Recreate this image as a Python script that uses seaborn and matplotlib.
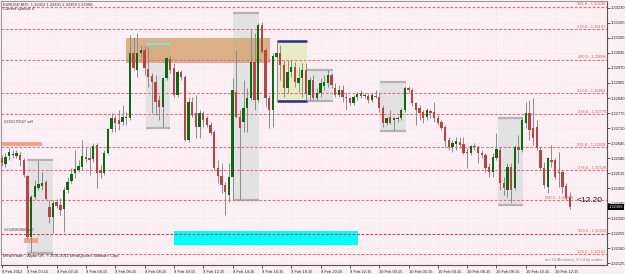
import matplotlib
matplotlib.use("Agg")
import matplotlib.pyplot as plt
import seaborn as sns
import pandas as pd
from matplotlib.patches import Rectangle

# ---------------- data ----------------
opens = [1.32580, 1.32554, 1.32589, 1.32593, 1.32589, 1.32593, 1.32571, 1.32502, 1.32238, 1.32411,
         1.32450, 1.32459, 1.32476, 1.32368, 1.32324, 1.32389, 1.32376, 1.32359, 1.32441, 1.32480,
         1.32515, 1.32528, 1.32541, 1.32584, 1.32580, 1.32576, 1.32636, 1.32528, 1.32515, 1.32602,
         1.32706, 1.32753, 1.32745, 1.32736, 1.32753, 1.32753, 1.33035, 1.32961, 1.33035, 1.33048,
         1.32966, 1.32935, 1.32909, 1.32831, 1.32801, 1.32927, 1.33009, 1.32970, 1.32853, 1.32953,
         1.32931, 1.32658, 1.32823, 1.32775, 1.32714, 1.32775, 1.32753, 1.32723, 1.32693, 1.32537,
         1.32502, 1.32463, 1.32420, 1.32498, 1.32866, 1.32758, 1.32736, 1.32797, 1.32840, 1.32996,
         1.32831, 1.33156, 1.33048, 1.32840, 1.32788, 1.33018, 1.33035, 1.32983, 1.32883, 1.32953,
         1.32974, 1.32905, 1.32927, 1.32961, 1.32853, 1.32918, 1.32840, 1.32862, 1.32892, 1.32905,
         1.32940, 1.32883, 1.32853, 1.32875, 1.32844, 1.32840, 1.32818, 1.32844, 1.32862, 1.32849,
         1.32849, 1.32831, 1.32849, 1.32844, 1.32797, 1.32732, 1.32758, 1.32745, 1.32749, 1.32753,
         1.32788, 1.32883, 1.32875, 1.32818, 1.32797, 1.32779, 1.32758, 1.32784, 1.32779, 1.32753,
         1.32736, 1.32714, 1.32658, 1.32628, 1.32641, 1.32649, 1.32641, 1.32602, 1.32602, 1.32632,
         1.32628, 1.32602, 1.32593, 1.32541, 1.32519, 1.32580, 1.32615, 1.32472, 1.32441, 1.32541,
         1.32450, 1.32628, 1.32615, 1.32732, 1.32775, 1.32710, 1.32714, 1.32615, 1.32537, 1.32454,
         1.32571, 1.32571, 1.32519, 1.32519, 1.32459, 1.32412]
highs = [1.32593, 1.32602, 1.32623, 1.32615, 1.32615, 1.32606, 1.32580, 1.32506, 1.32420, 1.32485,
         1.32571, 1.32519, 1.32485, 1.32398, 1.32398, 1.32402, 1.32407, 1.32454, 1.32498, 1.32537,
         1.32615, 1.32571, 1.32658, 1.32628, 1.32628, 1.32645, 1.32645, 1.32550, 1.32615, 1.32710,
         1.32775, 1.32766, 1.32788, 1.32810, 1.32779, 1.33113, 1.33104, 1.33122, 1.33070, 1.33065,
         1.33061, 1.32948, 1.32940, 1.32853, 1.32931, 1.33018, 1.33026, 1.32992, 1.32961, 1.32961,
         1.32940, 1.32844, 1.32844, 1.32853, 1.32788, 1.32784, 1.32762, 1.32736, 1.32701, 1.32571,
         1.32558, 1.32476, 1.32558, 1.32927, 1.33048, 1.32788, 1.32918, 1.32883, 1.33135, 1.33122,
         1.33165, 1.33169, 1.33061, 1.32853, 1.33035, 1.33083, 1.33070, 1.33005, 1.33005, 1.33005,
         1.32996, 1.32974, 1.32992, 1.32992, 1.32931, 1.32940, 1.32883, 1.32927, 1.32940, 1.32961,
         1.32948, 1.32905, 1.32896, 1.32896, 1.32862, 1.32844, 1.32853, 1.32866, 1.32875, 1.32862,
         1.32857, 1.32862, 1.32875, 1.32866, 1.32810, 1.32758, 1.32788, 1.32758, 1.32762, 1.32797,
         1.32892, 1.32892, 1.32883, 1.32823, 1.32810, 1.32788, 1.32797, 1.32792, 1.32823, 1.32766,
         1.32745, 1.32723, 1.32671, 1.32658, 1.32671, 1.32671, 1.32671, 1.32623, 1.32636, 1.32645,
         1.32636, 1.32615, 1.32602, 1.32558, 1.32602, 1.32688, 1.32628, 1.32498, 1.32558, 1.32558,
         1.32636, 1.32680, 1.32758, 1.32823, 1.32831, 1.32840, 1.32745, 1.32628, 1.32563, 1.32584,
         1.32636, 1.32580, 1.32606, 1.32528, 1.32472, 1.32431]
lows = [1.32545, 1.32541, 1.32571, 1.32580, 1.32580, 1.32545, 1.32498, 1.32225, 1.32173, 1.32402,
        1.32441, 1.32441, 1.32398, 1.32298, 1.32255, 1.32363, 1.32333, 1.32259, 1.32428, 1.32472,
        1.32493, 1.32519, 1.32528, 1.32563, 1.32506, 1.32563, 1.32450, 1.32493, 1.32506, 1.32597,
        1.32693, 1.32693, 1.32701, 1.32723, 1.32723, 1.32745, 1.32961, 1.32931, 1.33013, 1.32940,
        1.32888, 1.32775, 1.32766, 1.32745, 1.32714, 1.32918, 1.32948, 1.32844, 1.32844, 1.32918,
        1.32654, 1.32649, 1.32758, 1.32667, 1.32667, 1.32714, 1.32714, 1.32680, 1.32528, 1.32472,
        1.32428, 1.32333, 1.32389, 1.32398, 1.32753, 1.32398, 1.32693, 1.32693, 1.32831, 1.32788,
        1.32823, 1.33035, 1.32801, 1.32710, 1.32714, 1.32831, 1.32918, 1.32844, 1.32862, 1.32931,
        1.32888, 1.32866, 1.32844, 1.32831, 1.32831, 1.32831, 1.32831, 1.32844, 1.32875, 1.32888,
        1.32883, 1.32844, 1.32844, 1.32823, 1.32788, 1.32810, 1.32810, 1.32831, 1.32840, 1.32840,
        1.32818, 1.32823, 1.32840, 1.32779, 1.32714, 1.32723, 1.32727, 1.32701, 1.32736, 1.32745,
        1.32779, 1.32862, 1.32805, 1.32723, 1.32745, 1.32732, 1.32745, 1.32753, 1.32736, 1.32723,
        1.32701, 1.32628, 1.32615, 1.32606, 1.32615, 1.32623, 1.32597, 1.32537, 1.32593, 1.32615,
        1.32558, 1.32580, 1.32519, 1.32498, 1.32498, 1.32571, 1.32441, 1.32420, 1.32411, 1.32385,
        1.32441, 1.32558, 1.32606, 1.32710, 1.32658, 1.32636, 1.32615, 1.32528, 1.32450, 1.32428,
        1.32541, 1.32489, 1.32454, 1.32428, 1.32398, 1.32358]
closes = [1.32558, 1.32584, 1.32606, 1.32597, 1.32602, 1.32571, 1.32506, 1.32238, 1.32411, 1.32459,
          1.32467, 1.32472, 1.32402, 1.32324, 1.32385, 1.32372, 1.32355, 1.32441, 1.32476, 1.32511,
          1.32532, 1.32545, 1.32589, 1.32576, 1.32571, 1.32632, 1.32515, 1.32515, 1.32602, 1.32706,
          1.32753, 1.32732, 1.32727, 1.32758, 1.32758, 1.33035, 1.32970, 1.33035, 1.33048, 1.32970,
          1.32931, 1.32909, 1.32823, 1.32801, 1.32927, 1.33013, 1.32961, 1.32853, 1.32953, 1.32931,
          1.32658, 1.32823, 1.32766, 1.32714, 1.32775, 1.32745, 1.32723, 1.32688, 1.32537, 1.32502,
          1.32463, 1.32433, 1.32498, 1.32875, 1.32758, 1.32710, 1.32797, 1.32840, 1.32996, 1.32831,
          1.33156, 1.33039, 1.32840, 1.32788, 1.33022, 1.33035, 1.32983, 1.32883, 1.32953, 1.32974,
          1.32909, 1.32927, 1.32961, 1.32857, 1.32918, 1.32840, 1.32862, 1.32905, 1.32909, 1.32940,
          1.32896, 1.32853, 1.32875, 1.32844, 1.32840, 1.32818, 1.32844, 1.32857, 1.32849, 1.32850,
          1.32831, 1.32853, 1.32844, 1.32797, 1.32732, 1.32753, 1.32732, 1.32753, 1.32753, 1.32788,
          1.32883, 1.32875, 1.32818, 1.32788, 1.32775, 1.32753, 1.32788, 1.32775, 1.32753, 1.32732,
          1.32710, 1.32654, 1.32628, 1.32645, 1.32654, 1.32636, 1.32602, 1.32601, 1.32632, 1.32628,
          1.32602, 1.32593, 1.32537, 1.32519, 1.32584, 1.32619, 1.32472, 1.32450, 1.32541, 1.32441,
          1.32628, 1.32615, 1.32745, 1.32775, 1.32701, 1.32667, 1.32623, 1.32537, 1.32463, 1.32580,
          1.32563, 1.32498, 1.32515, 1.32454, 1.32407, 1.32366]

time_labels = ["8 Feb 2012", "9 Feb 00:15", "9 Feb 02:15", "9 Feb 04:15", "9 Feb 06:15",
               "9 Feb 08:15", "9 Feb 10:15", "9 Feb 12:15", "9 Feb 14:15", "9 Feb 16:15",
               "9 Feb 18:15", "9 Feb 20:15", "9 Feb 22:15", "10 Feb 00:15", "10 Feb 02:15",
               "10 Feb 04:15", "10 Feb 06:15", "10 Feb 08:15", "10 Feb 10:15", "10 Feb 12:15"]
time_label_bars = [0, 7, 15, 23, 31, 39, 47, 55, 63, 71, 79, 87, 95, 103, 111, 119, 127, 135, 143, 151]

price_ticks = [1.32125, 1.32190, 1.32255, 1.32320, 1.32385, 1.32450, 1.32515, 1.32580, 1.32645,
               1.32710, 1.32775, 1.32840, 1.32905, 1.32970, 1.33035, 1.33100, 1.33165, 1.33230]

fib_levels = ["161.8", "178.6", "200.0", "223.6", "238.6", "261.8", "278.6", "300.0", "323.6", "338.2"]
fib_prices = [1.33236, 1.33137, 1.33006, 1.32862, 1.32770, 1.32628, 1.32526, 1.32396, 1.32252, 1.32162]

# chart objects: (first bar, last bar, top price, bottom price)
grey_boxes = [(6.9, 14.0, 1.32571, 1.32168), (39.4, 45.9, 1.33074, 1.32710),
              (63.1, 70.2, 1.33208, 1.32398), (83.3, 90.4, 1.32961, 1.32827),
              (103.2, 110.3, 1.32909, 1.32697), (135.4, 142.3, 1.32753, 1.32376)]
yellow_box = (75.1, 83.3, 1.33087, 1.32827)
tan_box = (33.9, 73.2, 1.33100, 1.32992)
salmon_boxes = [(-0.3, 11.0, 1.32649, 1.32632), (6.1, 9.9, 1.32234, 1.32212)]
cyan_box = (47.0, 97.2, 1.32264, 1.32203)

df = pd.DataFrame({"bar": range(len(opens)), "open": opens, "high": highs,
                   "low": lows, "close": closes})
df["up"] = df["close"] >= df["open"]

# ---------------- styling ----------------
BG = "#fdf0f4"
sns.set_theme(style="white")
plt.rcParams["font.family"] = ["Liberation Sans", "DejaVu Sans"]

fig = plt.figure(figsize=(6.25, 2.74), dpi=100, facecolor=BG)
ax = fig.add_axes([1 / 625, 9 / 274, 606 / 625, 264 / 274])
ax.set_facecolor(BG)
ax.set_xlim(-0.19, 165.16)
ax.set_ylim(1.321164, 1.332603)

# grid (faint dotted)
for p in price_ticks:
    ax.axhline(p, color="#ecd2dc", lw=0.5, ls=(0, (1, 3)), zorder=0)
for b in time_label_bars[1:]:
    ax.axvline(b, color="#ecd2dc", lw=0.5, ls=(0, (1, 3)), zorder=0)

# boxes
for (x0, x1, top, bot) in grey_boxes:
    ax.add_patch(Rectangle((x0, bot), x1 - x0, top - bot, facecolor="#e2e2e2",
                           edgecolor="none", zorder=1))
    ax.hlines([top, bot], x0, x1, color="#b3b3b3", lw=1.6, zorder=1.5)
x0, x1, top, bot = grey_boxes[1]
ax.hlines(top, x0, x1, color="#86e6cc", lw=1.6, zorder=1.6)

x0, x1, top, bot = yellow_box
ax.add_patch(Rectangle((x0, bot), x1 - x0, top - bot, facecolor="#e8ecc4",
                       edgecolor="none", zorder=1))
ax.hlines([top, bot], x0, x1, color="#2c2c8e", lw=1.8, zorder=1.6)

x0, x1, top, bot = tan_box
ax.add_patch(Rectangle((x0, bot), x1 - x0, top - bot, facecolor="#d4a06d",
                       alpha=0.8, edgecolor="none", zorder=1.2))

for (x0, x1, top, bot) in salmon_boxes:
    ax.add_patch(Rectangle((x0, bot), x1 - x0, top - bot, facecolor="#f2a090",
                           edgecolor="none", zorder=1.2))

x0, x1, top, bot = cyan_box
ax.add_patch(Rectangle((x0, bot), x1 - x0, top - bot, facecolor="#00ffff",
                       edgecolor="none", zorder=1.2))

# fibonacci levels
for lvl, p in zip(fib_levels, fib_prices):
    col = "#d84050" if lvl == "323.6" else "#f06a7a"
    ax.axhline(p, color=col, lw=0.8, ls=(0, (2.5, 1.5)), zorder=1.8)
    xr = 0.998
    if lvl == "300.0":
        xr = 0.944  # sits just left of the profit label
    ax.text(xr, p + 0.00001, f"{lvl} - {p:.5f}", transform=ax.get_yaxis_transform(),
            ha="right", va="bottom", fontsize=2.9, color="#e8505e", zorder=5)

# candles
ax.vlines(df["bar"], df["low"], df["high"], color="#8c8c8c", lw=0.7, zorder=2)
body_bottom = df[["open", "close"]].min(axis=1)
body_h = (df["close"] - df["open"]).abs().clip(lower=0.00003)
ax.bar(df["bar"][df["up"]], body_h[df["up"]], bottom=body_bottom[df["up"]],
       width=0.64, color="#0d6a12", edgecolor="none", zorder=3)
ax.bar(df["bar"][~df["up"]], body_h[~df["up"]], bottom=body_bottom[~df["up"]],
       width=0.64, color="#b84448", edgecolor="none", zorder=3)

# axes / ticks
ax.yaxis.tick_right()
ax.set_yticks(price_ticks)
ax.set_yticklabels([f"{p:.5f}" for p in price_ticks])
ax.tick_params(axis="y", which="major", right=True, length=2, width=0.5, pad=1,
               labelsize=2.9, colors="#202020")
ax.set_xticks(time_label_bars)
ax.set_xticklabels(time_labels)
for lab in ax.get_xticklabels():
    lab.set_horizontalalignment("left")
ax.tick_params(axis="x", which="major", bottom=True, length=2, width=0.5, pad=1.5,
               labelsize=2.9, colors="#202020")
for side in ["left", "top"]:
    ax.spines[side].set_color("#9a9a9a")
    ax.spines[side].set_linewidth(0.8)
for side in ["right", "bottom"]:
    ax.spines[side].set_color("#555555")
    ax.spines[side].set_linewidth(0.8)

# texts
ax.text(0.004, 0.988, "EURUSD,M15  1.32412 1.32431 1.32358 1.32366", transform=ax.transAxes,
        ha="left", va="center", fontsize=2.9, color="#303030")
ax.text(0.004, 0.968, "Current spread: 4", transform=ax.transAxes,
        ha="left", va="center", fontsize=2.9, color="#303030")
ax.text(0.5, 1.32734, "#265170567 sell", ha="left", va="center", fontsize=2.9, color="#404040")
ax.text(0.5, 1.32270, "#264586860 sell", ha="left", va="center", fontsize=2.9, color="#404040")
ax.text(0.004, 0.034, "MetaTrader - Alpari UK, \u00a9 2001-2011 MetaQuotes Software Corp.",
        transform=ax.transAxes, ha="left", va="center", fontsize=2.9, color="#303030")
ax.text(0.992, 0.018, "ani-OUBreakout_V.3.4 by andee", transform=ax.transAxes,
        ha="right", va="center", fontsize=2.9, color="#8a8a8a")
ax.text(0.993, 1.32398, "<12.20", transform=ax.get_yaxis_transform(), ha="right",
        va="center", fontsize=6, color="#202020", zorder=6)
ax.text(1.003, 1.32366, "1.32366", transform=ax.get_yaxis_transform(), ha="left",
        va="center", fontsize=2.9, color="white", zorder=6,
        bbox=dict(boxstyle="square,pad=0.25", facecolor="black", edgecolor="none"))

fig.savefig("out.png", dpi=100, facecolor=BG)
